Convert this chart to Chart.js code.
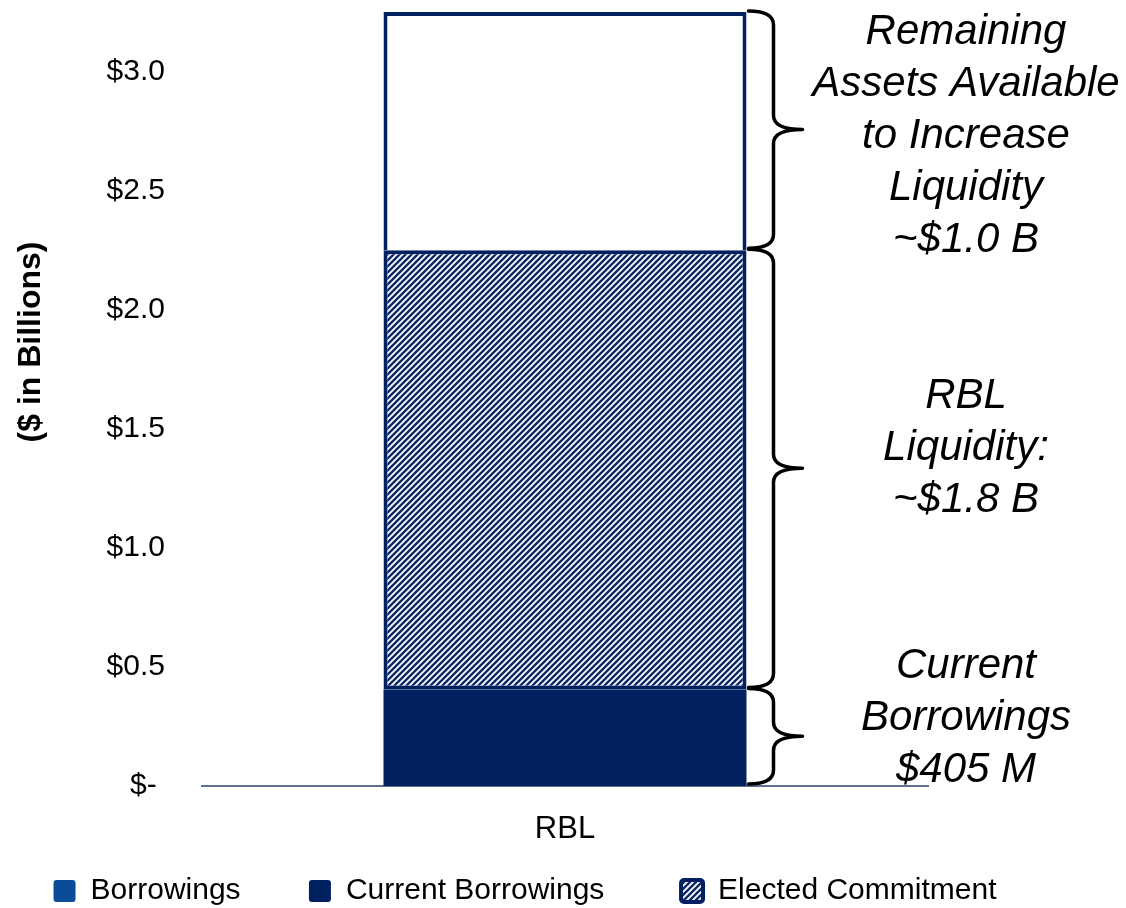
<!DOCTYPE html>
<html>
<head>
<meta charset="utf-8">
<title>RBL</title>
<script src="https://cdn.jsdelivr.net/npm/chart.js@4.4.1/dist/chart.umd.min.js"></script>
<style>
    html, body { margin: 0; padding: 0; background: #ffffff; }
    #wrap { width: 1126px; height: 908px; }
</style>
</head>
<body>
<div id="wrap"><canvas id="grafico"></canvas></div>
<script>
// valores em bilhões de dólares
var categorias = ['RBL'];
var borrowings = [0];
var currentBorrowings = [0.405];
var electedCommitment = [1.845];
var remainingAssets = [1.0];
var yTicks = [0, 0.5, 1.0, 1.5, 2.0, 2.5, 3.0];

// textos das chaves à direita (de cima para baixo)
var textoRemaining = ['Remaining', 'Assets Available', 'to Increase', 'Liquidity', '~$1.0 B'];
var textoLiquidity = ['RBL', 'Liquidity:', '~$1.8 B'];
var textoCurrent = ['Current', 'Borrowings', '$405 M'];
var tituloY = '($ in Billions)';

var azulEscuro = '#002060';
var azulMedio = '#0B4C98';
var corEixo = '#5B7090';

Chart.defaults.font.family = "'Liberation Sans', Arial, sans-serif";
Chart.defaults.color = '#000000';

// padrão hachurado do "Elected Commitment"
function criarHachura() {
    var c = document.createElement('canvas');
    c.width = 6;
    c.height = 6;
    var g = c.getContext('2d');
    g.fillStyle = '#ffffff';
    g.fillRect(0, 0, 6, 6);
    g.strokeStyle = '#0d2a66';
    g.lineWidth = 2.4;
    g.beginPath();
    g.moveTo(0, 6); g.lineTo(6, 0);
    g.moveTo(-3, 3); g.lineTo(3, -3);
    g.moveTo(3, 9); g.lineTo(9, 3);
    g.stroke();
    return g.createPattern(c, 'repeat');
}

function desenharChave(ctx, x0, yTopo, yBase, xEixo, xPonta) {
    var yMeio = (yTopo + yBase) / 2;
    var r = Math.min(14, (yBase - yTopo) / 5);
    ctx.beginPath();
    ctx.moveTo(x0, yTopo);
    ctx.quadraticCurveTo(xEixo, yTopo, xEixo, yTopo + r);
    ctx.lineTo(xEixo, yMeio - r);
    ctx.quadraticCurveTo(xEixo, yMeio, xPonta, yMeio);
    ctx.quadraticCurveTo(xEixo, yMeio, xEixo, yMeio + r);
    ctx.lineTo(xEixo, yBase - r);
    ctx.quadraticCurveTo(xEixo, yBase, x0, yBase);
    ctx.stroke();
    return yMeio;
}

var pluginAnotacoes = {
    id: 'anotacoes',
    afterDraw: function(chart) {
        var ctx = chart.ctx;
        var y = chart.scales.y;
        var area = chart.chartArea;
        var barra = chart.getDatasetMeta(1).data[0];
        var direita = barra.x + barra.width / 2;

        var base = 0;
        var topoCurrent = currentBorrowings[0];
        var topoElected = topoCurrent + electedCommitment[0];
        var topoRemaining = topoElected + remainingAssets[0];

        var blocos = [
            { de: topoElected, ate: topoRemaining, linhas: textoRemaining, dy: 18 },
            { de: topoCurrent, ate: topoElected, linhas: textoLiquidity, dy: -8 },
            { de: base, ate: topoCurrent, linhas: textoCurrent, dy: -6 }
        ];

        ctx.save();
        ctx.strokeStyle = '#000000';
        ctx.lineWidth = 3.5;
        ctx.lineCap = 'round';
        ctx.lineJoin = 'round';
        blocos.forEach(function(b) {
            var meio = desenharChave(ctx, direita + 2, y.getPixelForValue(b.ate) - 1,
                y.getPixelForValue(b.de) - 2, direita + 27, direita + 56);
            ctx.fillStyle = '#000000';
            ctx.font = "italic 42px 'Liberation Sans', Arial, sans-serif";
            ctx.textAlign = 'center';
            ctx.textBaseline = 'alphabetic';
            var n = b.linhas.length;
            b.linhas.forEach(function(txt, i) {
                ctx.fillText(txt, area.right + 38, meio + b.dy + (i - (n - 1) / 2) * 52);
            });
        });

        // título do eixo Y
        ctx.translate(31, 342);
        ctx.rotate(-Math.PI / 2);
        ctx.font = "bold 32px 'Liberation Sans', Arial, sans-serif";
        ctx.textAlign = 'center';
        ctx.textBaseline = 'middle';
        ctx.fillText(tituloY, 0, 0);
        ctx.restore();
    }
};

// espaço extra entre os itens da legenda
var espacosLegenda = { 0: '       ', 1: '        ' };

var ctx = document.getElementById('grafico').getContext('2d');
var grafico = new Chart(ctx, {
    type: 'bar',
    data: {
        labels: categorias,
        datasets: [{
            label: 'Borrowings',
            data: borrowings,
            backgroundColor: azulMedio,
            borderWidth: 0
        },
        {
            label: 'Current Borrowings',
            data: currentBorrowings,
            backgroundColor: azulEscuro,
            borderWidth: 0
        },
        {
            label: 'Elected Commitment',
            data: electedCommitment,
            backgroundColor: criarHachura(),
            borderColor: azulEscuro,
            borderWidth: 4,
            borderSkipped: false
        },
        {
            label: 'Remaining',
            data: remainingAssets,
            backgroundColor: '#ffffff',
            borderColor: azulEscuro,
            borderWidth: 4,
            borderSkipped: 'start'
        }]
    },
    options: {
        responsive: true,
        maintainAspectRatio: false,
        animation: false,
        layout: { padding: { top: 12, right: 76, bottom: -8, left: 0 } },
        datasets: { bar: { categoryPercentage: 1, barPercentage: 0.5 } },
        plugins: {
            tooltip: { enabled: false },
            legend: {
                position: 'bottom',
                labels: {
                    boxWidth: 22,
                    boxHeight: 22,
                    padding: 10,
                    useBorderRadius: true,
                    borderRadius: 3,
                    font: { size: 30 },
                    color: '#000000',
                    generateLabels: function(chart) {
                        var itens = Chart.defaults.plugins.legend.labels.generateLabels(chart);
                        itens.forEach(function(item) {
                            if (espacosLegenda[item.datasetIndex]) item.text += espacosLegenda[item.datasetIndex];
                        });
                        return itens;
                    },
                    filter: function(item) { return item.datasetIndex !== 3; }
                }
            }
        },
        scales: {
            x: {
                stacked: true,
                grid: { display: false },
                border: { display: true, color: corEixo, width: 2 },
                ticks: { font: { size: 31 }, color: '#000000', padding: 17 },
                afterFit: function(scale) { scale.height = 80; }
            },
            y: {
                stacked: true,
                min: 0,
                max: 3.25,
                grid: { display: false, drawTicks: false },
                border: { display: false },
                afterBuildTicks: function(scale) {
                    scale.ticks = yTicks.map(function(v) { return { value: v }; });
                },
                ticks: {
                    font: { size: 30 },
                    color: '#000000',
                    padding: 37,
                    callback: function(v) {
                        return v === 0 ? '$- ' : '$' + Number(v).toFixed(1);
                    }
                },
                afterFit: function(scale) {
                    scale.width = 202;
                    scale.paddingTop = 0;
                    scale.paddingBottom = 0;
                }
            },
            y2: {
                type: 'linear',
                position: 'right',
                display: true,
                grid: { display: false, drawTicks: false },
                border: { display: false },
                ticks: { display: false },
                afterFit: function(scale) {
                    scale.width = 122;
                    scale.paddingTop = 0;
                    scale.paddingBottom = 0;
                }
            }
        }
    },
    plugins: [pluginAnotacoes]
});
</script>
</body>
</html>
